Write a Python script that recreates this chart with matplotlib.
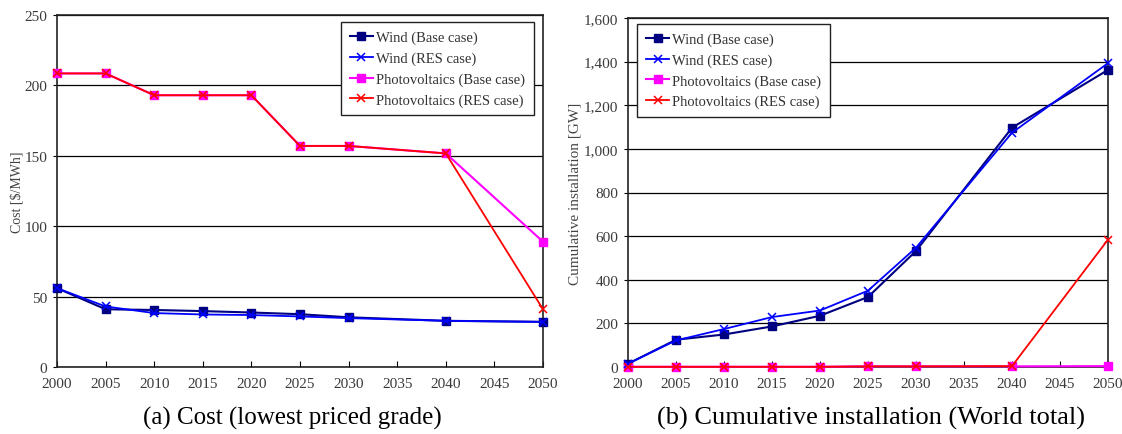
import numpy as np
import matplotlib.pyplot as plt
from matplotlib.ticker import FuncFormatter

plt.rcParams['font.family'] = ['Liberation Serif', 'DejaVu Serif']

years = [2000, 2005, 2010, 2015, 2020, 2025, 2030, 2040, 2050]

# (a) cost [$/MWh]
cost_wind_base = [56, 41, 40.5, 39.7, 38.7, 37.5, 35.3, 32.8, 32.1]
cost_wind_res = [56, 43, 38.3, 37.3, 36.9, 35.9, 34.7, 32.8, 32.0]
cost_pv_base = [208.5, 208.5, 193, 193, 193, 157, 157, 151.7, 89]
cost_pv_res = [208.5, 208.5, 193, 193, 193, 157, 157, 151.7, 41]

# (b) cumulative installation [GW]
inst_wind_base = [15, 125, 149, 186, 235, 321, 532, 1097, 1362]
inst_wind_res = [15, 122, 174, 229, 259, 350, 547, 1074, 1393]
inst_pv_base = [1, 1, 1, 1, 1, 3, 3, 3, 4]
inst_pv_res = [1, 1, 1, 1, 1, 3, 3, 4, 584]

labels = ['Wind (Base case)', 'Wind (RES case)',
          'Photovoltaics (Base case)', 'Photovoltaics (RES case)']
colors = ['#000080', '#0000ff', '#ff00ff', '#ff0000']
markers = ['s', 'x', 's', 'x']

W, H = 1122, 435
fig = plt.figure(figsize=(W / 100, H / 100), dpi=100)
ax1 = fig.add_axes([57 / W, (H - 368) / H, 486 / W, 352 / H])
ax2 = fig.add_axes([628 / W, (H - 368) / H, 480 / W, 349 / H])

tick_col = '#3a3a3a'


def draw(ax, series, ymax, ystep, ylabel, ylab_size, ylab_pad,
         legend_loc, legend_anchor):
    for vals, lab, c, m in zip(series, labels, colors, markers):
        if m == 's':
            ax.plot(years, vals, color=c, lw=1.5, marker=m, ms=6,
                    mfc=c, mec=c, label=lab, clip_on=False, zorder=3)
        else:
            ax.plot(years, vals, color=c, lw=1.3, marker=m, ms=6,
                    mew=1.1, label=lab, clip_on=False, zorder=4)
    ax.set_xlim(2000, 2050)
    ax.set_ylim(0, ymax)
    ax.set_xticks(range(2000, 2051, 5))
    ax.set_yticks(np.arange(0, ymax + 1, ystep))
    ax.grid(axis='y', color='black', lw=0.9)
    ax.set_axisbelow(True)
    for s in ax.spines.values():
        s.set_color('#222222')
        s.set_linewidth(1.2)
    ax.tick_params(axis='x', direction='in', length=4, labelsize=11,
                   labelcolor=tick_col, pad=7)
    ax.tick_params(axis='y', direction='out', length=3, labelsize=11,
                   labelcolor=tick_col, pad=4)
    ax.set_ylabel(ylabel, fontsize=ylab_size, color='#444444',
                  labelpad=ylab_pad)
    leg = ax.legend(loc=legend_loc, bbox_to_anchor=legend_anchor,
                    fontsize=10.5, frameon=True, fancybox=False,
                    edgecolor='#222222', framealpha=1, handlelength=1.6,
                    handletextpad=0.2, labelspacing=0.5, borderpad=0.6,
                    borderaxespad=0)
    leg.get_frame().set_linewidth(1.0)
    for t in leg.get_texts():
        t.set_color('#333333')


draw(ax1, [cost_wind_base, cost_wind_res, cost_pv_base, cost_pv_res],
     250, 50, 'Cost [$/MWh]', 10, 1, 'upper right', (0.981, 0.98))
draw(ax2, [inst_wind_base, inst_wind_res, inst_pv_base, inst_pv_res],
     1600, 200, 'Cumulative installation [GW]', 11, 2,
     'upper left', (0.019, 0.983))
ax2.yaxis.set_major_formatter(FuncFormatter(lambda v, p: f'{int(v):,}'))

fig.text(292 / W, 1 - 418 / H, '(a) Cost (lowest priced grade)',
         ha='center', va='center', fontsize=18)
fig.text(871 / W, 1 - 418 / H, '(b) Cumulative installation (World total)',
         ha='center', va='center', fontsize=19)

fig.savefig('out.png', dpi=100)
